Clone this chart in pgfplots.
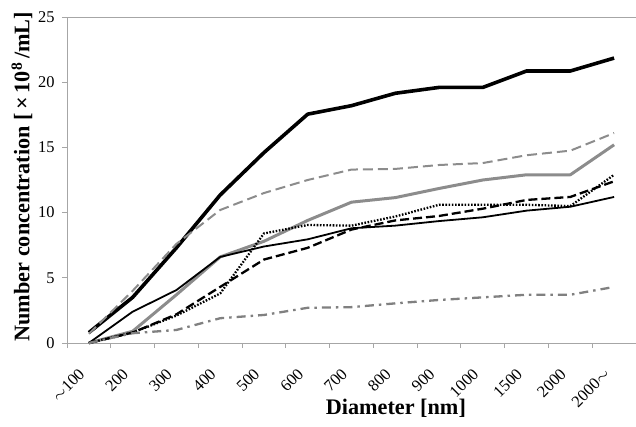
\documentclass[border=0pt]{standalone}
\usepackage{fontspec}
\setmainfont{Liberation Serif}
\usepackage{pgfplots}
\pgfplotsset{compat=1.18}
\definecolor{axgray}{HTML}{A6A6A6}
\definecolor{lgray}{HTML}{8C8C8C}
\begin{document}
\begin{tikzpicture}
\begin{axis}[name=ax,
  scale only axis, width=569bp, height=326bp,
  xmin=-0.5, xmax=12.5, ymin=0, ymax=25,
  axis x line*=bottom, axis y line*=left,
  axis line style={axgray, line width=0.9bp},
  every tick/.style={axgray, line width=0.9bp},
  tick align=outside,
  xtick={0,...,12},
  xticklabels={{$\sim$100},200,300,400,500,600,700,800,900,1000,1500,2000,{2000$\sim$}},
  major x tick style={draw=none},
  minor xtick={-0.5,0.5,...,12.5},
  minor tick length=5bp,
  ytick={0,5,...,25},
  major tick length=5bp,
  /pgf/number format/assume math mode=true,
  ticklabel style={font=\fontsize{16.5}{16.5}\selectfont},
  x tick label style={rotate=45, anchor=east, inner sep=1bp, xshift=-20.5bp, yshift=-11.5bp},
  y tick label style={xshift=-4bp},
  xlabel={Diameter [nm]},
  ylabel={Number concentration [\,×\,10\textsuperscript{8}\,/mL]},
  label style={font=\fontsize{22.3}{22.3}\bfseries},
  xlabel style={at={(rel axis cs:0.578,0)}, anchor=center, yshift=-65bp},
  ylabel style={at={(axis description cs:-0.079,0.51)}, anchor=center},
  clip=false,
]
% thick black solid
\addplot[black, line width=3.6bp, line join=round] coordinates {
(0,0.8)(1,3.5)(2,7.3)(3,11.35)(4,14.6)(5,17.55)(6,18.2)(7,19.15)(8,19.6)(9,19.6)(10,20.86)(11,20.86)(12,21.85)};
% gray dashed
\addplot[lgray, line width=2bp, dash pattern=on 10bp off 5bp] coordinates {
(0,0.7)(1,4.0)(2,7.6)(3,10.2)(4,11.5)(5,12.5)(6,13.3)(7,13.35)(8,13.65)(9,13.8)(10,14.4)(11,14.75)(12,16.1)};
% gray solid
\addplot[lgray, line width=3bp, line join=round] coordinates {
(0,0)(1,0.9)(2,3.7)(3,6.6)(4,7.8)(5,9.4)(6,10.8)(7,11.15)(8,11.85)(9,12.5)(10,12.9)(11,12.9)(12,15.2)};
% thin black solid
\addplot[black, line width=1.8bp, line join=round] coordinates {
(0,0)(1,2.4)(2,4.06)(3,6.6)(4,7.4)(5,7.95)(6,8.8)(7,9.0)(8,9.35)(9,9.64)(10,10.15)(11,10.45)(12,11.2)};
% black dotted
\addplot[black, line width=2.3bp, dash pattern=on 1.6bp off 1.6bp] coordinates {
(0,0)(1,0.8)(2,2.1)(3,3.8)(4,8.4)(5,9.05)(6,9.0)(7,9.7)(8,10.6)(9,10.6)(10,10.6)(11,10.5)(12,12.9)};
% black dashed
\addplot[black, line width=2.3bp, dash pattern=on 9bp off 4bp] coordinates {
(0,0)(1,0.8)(2,2.2)(3,4.3)(4,6.4)(5,7.3)(6,8.7)(7,9.4)(8,9.74)(9,10.3)(10,10.97)(11,11.2)(12,12.4)};
% gray dash-dot
\addplot[gray, line width=2.3bp, dash pattern=on 9bp off 5bp on 2.5bp off 5bp] coordinates {
(0,0)(1,0.75)(2,1.0)(3,1.9)(4,2.15)(5,2.7)(6,2.75)(7,3.04)(8,3.3)(9,3.5)(10,3.7)(11,3.7)(12,4.3)};
\draw[axgray, line width=0.9bp] (rel axis cs:0,1) -- (rel axis cs:1,1);
\end{axis}
\pgfresetboundingbox
\path ([xshift=-67bp,yshift=-84bp]ax.south west) rectangle ([yshift=17bp]ax.north east);
\end{tikzpicture}
\end{document}
